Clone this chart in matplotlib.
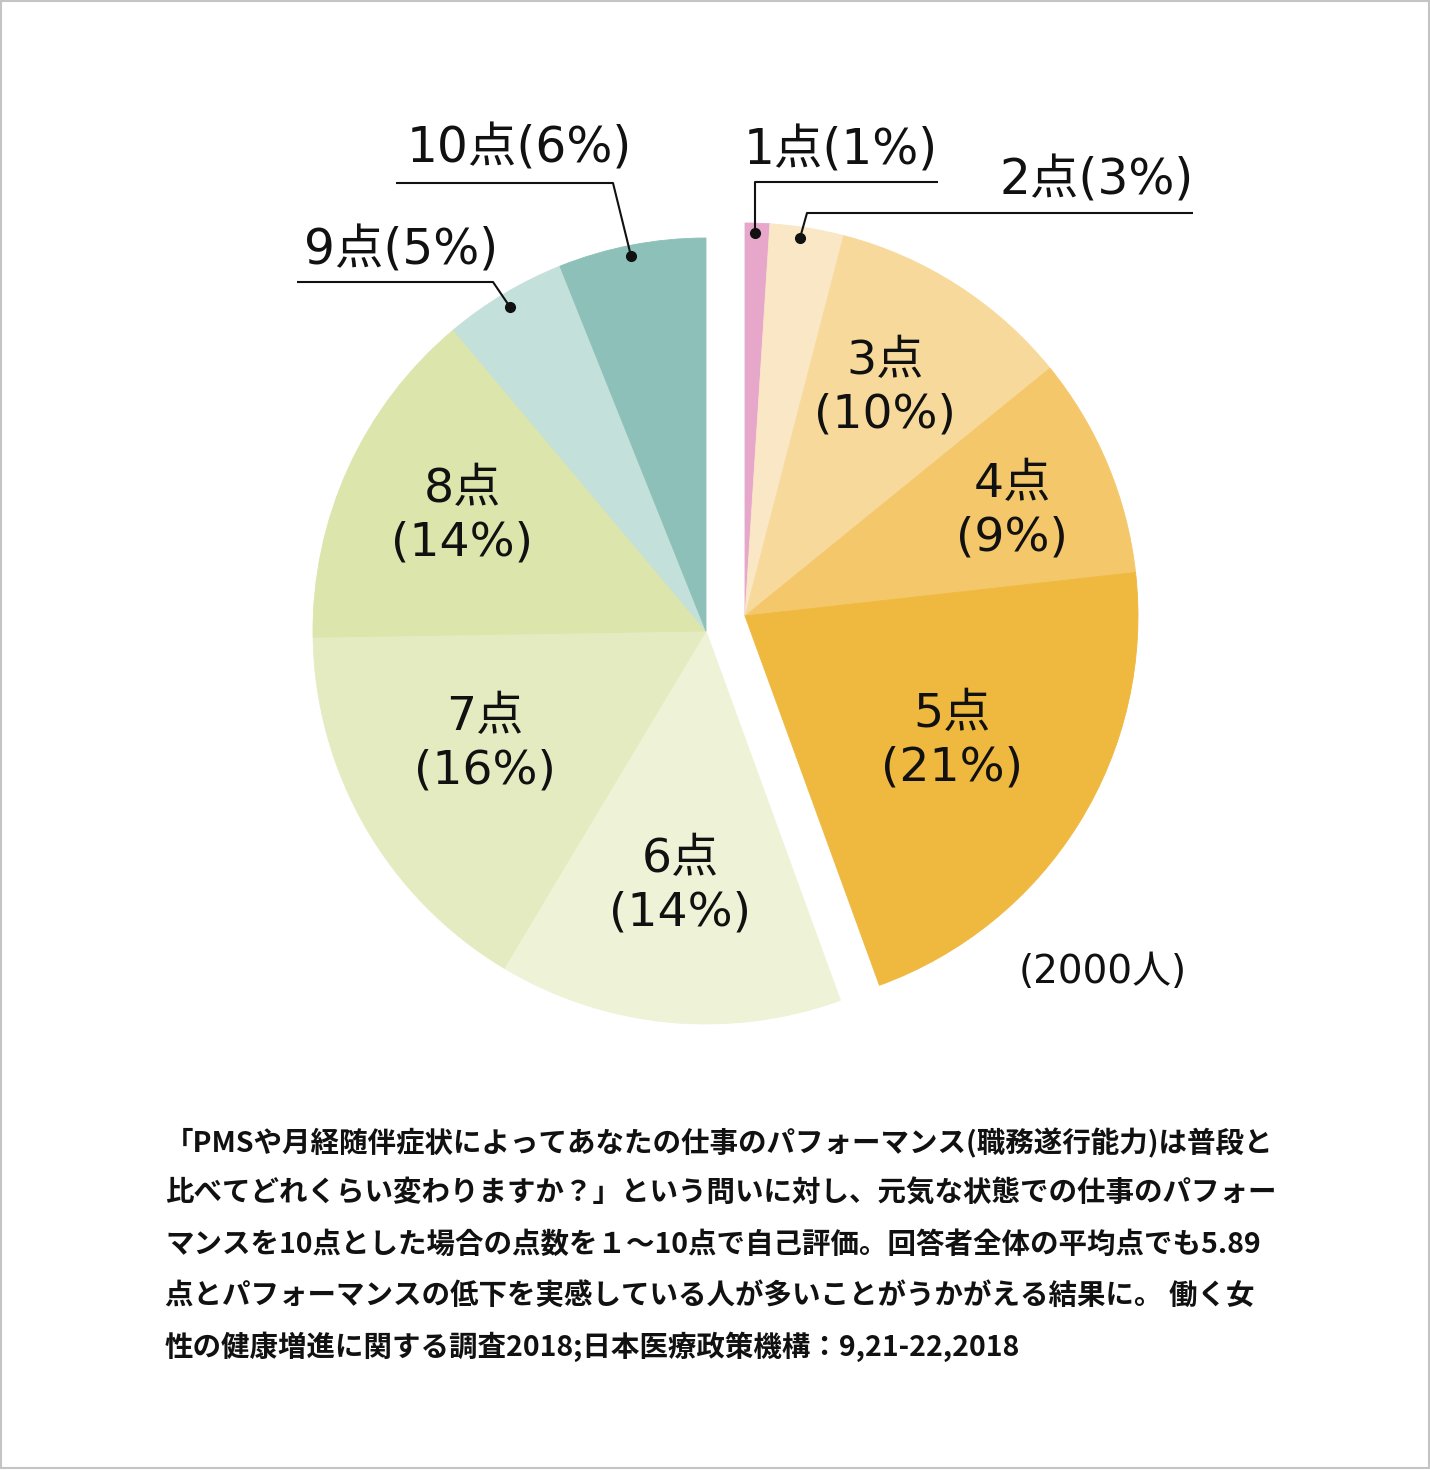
import matplotlib
matplotlib.use("Agg")
import matplotlib.pyplot as plt
from matplotlib.patches import Rectangle

plt.rcParams['font.family'] = ['Noto Sans CJK JP', 'DejaVu Sans']
LABEL_FONT = ['DejaVu Sans', 'Noto Sans CJK JP']

# data
scores = ["1点", "2点", "3点", "4点", "5点", "6点", "7点", "8点", "9点", "10点"]
shares = [1, 3, 10, 9, 21, 14, 16, 14, 5, 6]
respondents = 2000
colors = ["#E7A7CB", "#F9E7C6", "#F7DA9B", "#F4C86A", "#EFB83F",
          "#EEF2D6", "#E5EBC1", "#DCE5AB", "#C4E0DB", "#8DC0B8"]
footer_lines = [
    "「PMSや月経随伴症状によってあなたの仕事のパフォーマンス(職務遂行能力)は普段と",
    "比べてどれくらい変わりますか？」という問いに対し、元気な状態での仕事のパフォー",
    "マンスを10点とした場合の点数を１～10点で自己評価。回答者全体の平均点でも5.89",
    "点とパフォーマンスの低下を実感している人が多いことがうかがえる結果に。 働く女",
    "性の健康増進に関する調査2018;日本医療政策機構：9,21-22,2018",
]

W, H = 1430, 1470
fig = plt.figure(figsize=(W / 100, H / 100), dpi=100)
ax = fig.add_axes([0, 0, 1, 1])

# pie in pixel coords, y axis flipped -> counterclock in data = clockwise on screen
base_center = (706, 631)
shift_center = (745, 616)
radius = 393
wedges, _ = ax.pie(shares, colors=colors, startangle=-90, counterclock=True,
                   center=base_center, radius=radius,
                   wedgeprops=dict(linewidth=0.6))
for w, c in zip(wedges, colors):
    w.set_edgecolor(c)
for w in wedges[:5]:  # scores 1-5 pulled out as one block
    w.set_center(shift_center)

ax.set_xlim(0, W)
ax.set_ylim(H, 0)
ax.set_aspect("equal")
ax.axis("off")

# labels inside the slices: (index, x, y of block centre)
inside = [(2, 885, 388), (3, 1012, 511), (4, 952, 741),
          (5, 680, 886), (6, 485, 744), (7, 462, 516)]
for i, x, y in inside:
    ax.text(x, y - 26, scores[i], ha="center", va="center", fontsize=34,
            family=LABEL_FONT, color="#111111")
    ax.text(x, y + 27, f"({shares[i]}%)", ha="center", va="center", fontsize=34,
            family=LABEL_FONT, color="#111111")

# outside labels with leaders: (index, text x, text y, leader path)
outside = [
    (9, 519, 148, [(396, 183), (613, 183), (631, 256)]),
    (8, 401, 250, [(297, 282), (493, 282), (510, 307)]),
    (0, 841, 150, [(938, 182), (755, 182), (755, 233)]),
    (1, 1097, 180, [(1193, 213), (807, 213), (800, 238)]),
]
for i, x, y, path in outside:
    ax.text(x, y, f"{scores[i]}({shares[i]}%)", ha="center", va="center",
            fontsize=35, family=LABEL_FONT, color="#111111")
    xs, ys = zip(*path)
    ax.plot(xs, ys, color="#111111", lw=1.5, solid_capstyle="butt")
    ax.plot(xs[-1], ys[-1], "o", color="#111111", ms=7)

ax.text(1103, 972, f"({respondents}人)", ha="center", va="center",
        fontsize=28, family=LABEL_FONT, color="#111111")

for k, line in enumerate(footer_lines):
    ax.text(165, 1143 + 51 * k, line, ha="left", va="center", fontsize=20.5,
            fontweight="bold", color="#111111")

ax.add_patch(Rectangle((0.5, 0.5), W - 2, H - 2.5, fill=False,
                       edgecolor="#C4C4C4", lw=1.5))

fig.savefig("out.png", dpi=100, facecolor="white")
